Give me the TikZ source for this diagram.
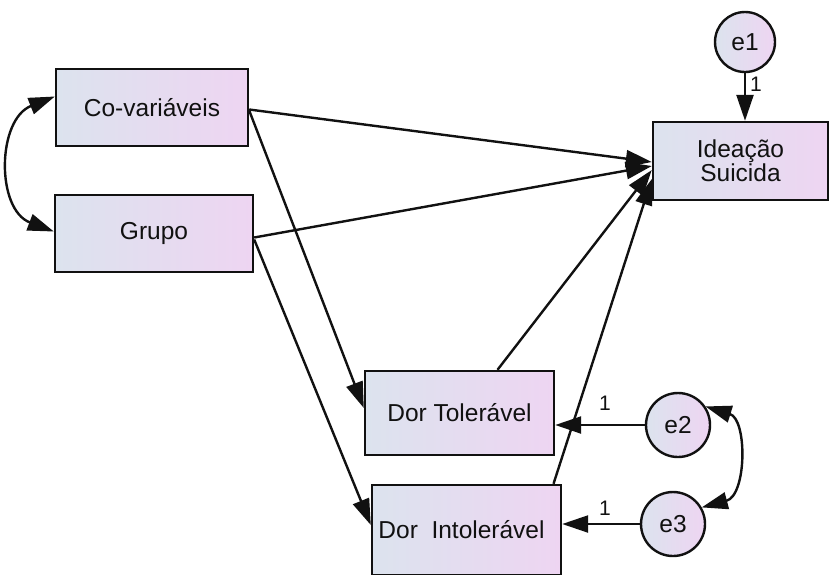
\documentclass[tikz,border=0pt]{standalone}
\usepackage{fontspec}
\setmainfont{Liberation Sans}
\usetikzlibrary{arrows.meta,calc}
\definecolor{boxL}{HTML}{DCE3EE}
\definecolor{boxR}{HTML}{EED5F2}
\definecolor{ink}{HTML}{111111}
\begin{document}
\begin{tikzpicture}[x=1pt,y=-1pt,
  var/.style={draw=ink, line width=2.4pt, left color=boxL, right color=boxR, inner sep=0pt,
    font=\fontsize{24.5}{25}\selectfont, align=center, text=ink},
  err/.style={circle, draw=ink, line width=2.4pt, left color=boxL, right color=boxR, inner sep=0pt,
    minimum size=60pt, font=\fontsize{24.5}{25}\selectfont, text=ink},
  arr/.style={draw=ink, line width=2.4pt, -{Triangle[length=26pt,width=17pt]}},
  biarr/.style={draw=ink, line width=2.4pt, {Triangle[length=26pt,width=17pt]}-{Triangle[length=26pt,width=17pt]}},
  one/.style={font=\fontsize{21}{21}\selectfont, text=ink, inner sep=0pt}
]
\useasboundingbox (0,0) rectangle (829,574);
\clip (0,0) rectangle (829,574);

\node[var, minimum width=192pt, minimum height=77pt] (cov) at (152,107.5) {Co-variáveis};
\node[var, minimum width=198pt, minimum height=77pt] (grp) at (154,233.5) {Grupo};
\node[var, minimum width=175pt, minimum height=78pt, font=\fontsize{24.5}{24}\selectfont] (ide) at (740.5,161) {Ideação\\Suicida};
\node[var, minimum width=189pt, minimum height=84pt] (dt) at (459.5,413) {Dor Tolerável};
\node[var, minimum width=189pt, minimum height=90pt] (di) at (466.5,530) {Dor\ \ Intolerável\hspace*{10pt}};

\node[err] (e1) at (745,42) {e1};
\node[err, minimum size=64pt] (e2) at (678,425) {e2};
\node[err, minimum size=64pt] (e3) at (673,524) {e3};

\draw[arr] ($(cov.east)+(0,2)$) -- ($(ide.west)+(0,1)$);
\draw[arr] ($(grp.east)+(0,4)$) -- ($(ide.west)+(0,5)$);
\draw[arr] ($(cov.east)+(0,3)$) -- ($(dt.west)+(0,-5)$);
\draw[arr] ($(grp.east)+(0,6)$) -- ($(di.west)+(0,-5)$);
\draw[arr] ($(dt.north)+(38,0)$) -- ($(ide.west)+(0,9)$);
\draw[arr] ($(di.north)+(87,0)$) -- ($(ide.west)+(0,18)$);

\draw[arr] (e1.south) -- (e1.south |- ide.north);
\draw[arr] (e2.west) -- (e2.west -| dt.east);
\draw[arr] (e3.west) -- (e3.west -| di.east);

\node[one] (l1) at (756,84) {1};
\node[one] (l2) at (605,403) {1};
\node[one] (l3) at (605,508) {1};

\draw[biarr] ($(cov.west)+(0,-11)$) .. controls ($(cov.west)+(-58,12)$) and ($(grp.west)+(-58,-24)$) .. ($(grp.west)+(0,-2)$);
\draw[biarr] (e2.34) .. controls ($(e2.34)+(42,13)$) and ($(e3.30)+(45,-12)$) .. (e3.30);
\end{tikzpicture}
\end{document}
